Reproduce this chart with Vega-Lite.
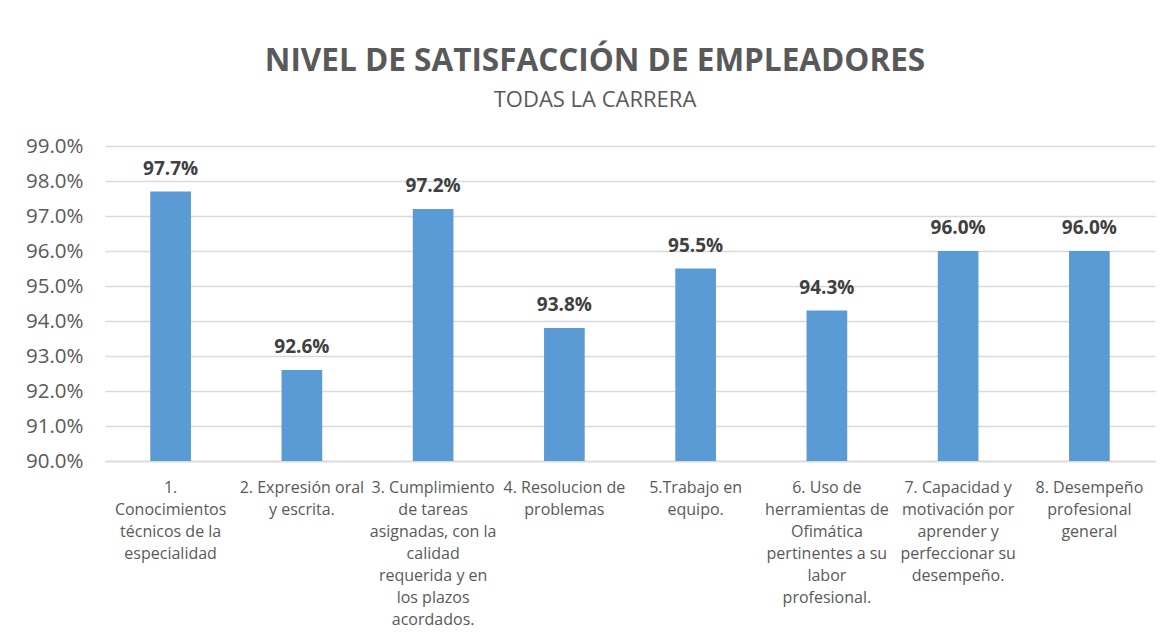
{
  "$schema": "https://vega.github.io/schema/vega-lite/v6.json",
  "autosize": {"type": "none"},
  "width": 1050,
  "height": 315,
  "padding": {"left": 105, "top": 146, "right": 14, "bottom": 181},
  "background": "white",
  "title": {
    "text": "NIVEL DE SATISFACCIÓN DE EMPLEADORES",
    "subtitle": "TODAS LA CARRERA",
    "anchor": "middle",
    "dx": -35,
    "offset": 25,
    "font": "Open Sans",
    "fontSize": 31.5,
    "fontWeight": "bold",
    "color": "#595959",
    "subtitleFont": "Open Sans",
    "subtitleFontSize": 22,
    "subtitleColor": "#595959",
    "subtitlePadding": 13
  },
  "data": {
    "values": [
      {"order": 1, "criterio": "1.|Conocimientos|técnicos de la|especialidad", "valor": 0.977},
      {"order": 2, "criterio": "2. Expresión oral|y escrita.", "valor": 0.926},
      {"order": 3, "criterio": "3. Cumplimiento|de tareas|asignadas, con la|calidad|requerida y en|los plazos|acordados.", "valor": 0.972},
      {"order": 4, "criterio": "4. Resolucion de|problemas", "valor": 0.938},
      {"order": 5, "criterio": "5.Trabajo en|equipo.", "valor": 0.955},
      {"order": 6, "criterio": "6. Uso de|herramientas de|Ofimática|pertinentes a su|labor|profesional.", "valor": 0.943},
      {"order": 7, "criterio": "7. Capacidad y|motivación por|aprender y|perfeccionar su|desempeño.", "valor": 0.96},
      {"order": 8, "criterio": "8. Desempeño|profesional|general", "valor": 0.96}
    ]
  },
  "encoding": {
    "x": {
      "field": "criterio",
      "type": "nominal",
      "sort": {"field": "order"},
      "scale": {"paddingInner": 0.69, "paddingOuter": 0.345},
      "axis": {
        "title": null,
        "labelAngle": 0,
        "labelExpr": "split(datum.label, '|')",
        "labelFont": "Open Sans",
        "labelFontSize": 16,
        "labelColor": "#595959",
        "labelLineHeight": 22,
        "labelPadding": 18,
        "labelLimit": 0,
        "ticks": false,
        "domain": true,
        "domainColor": "#D9D9D9",
        "domainWidth": 1.5
      }
    },
    "y": {
      "field": "valor",
      "type": "quantitative",
      "scale": {"domain": [0.9, 0.99], "zero": false, "clamp": true, "nice": false},
      "axis": {
        "title": null,
        "format": ".1%",
        "values": [0.9, 0.91, 0.92, 0.93, 0.94, 0.95, 0.96, 0.97, 0.98, 0.99],
        "labelFont": "Open Sans",
        "labelFontSize": 20.5,
        "labelColor": "#595959",
        "labelPadding": 22,
        "ticks": false,
        "domain": false,
        "grid": true,
        "gridColor": "#D9D9D9",
        "gridWidth": 1.5
      }
    }
  },
  "layer": [
    {"mark": {"type": "bar", "color": "#5B9BD5"}},
    {
      "mark": {
        "type": "text",
        "baseline": "bottom",
        "dy": -13,
        "font": "Open Sans",
        "fontSize": 19,
        "fontWeight": "bold",
        "color": "#404040"
      },
      "encoding": {"text": {"field": "valor", "type": "quantitative", "format": ".1%"}}
    }
  ],
  "config": {"view": {"stroke": null}}
}
